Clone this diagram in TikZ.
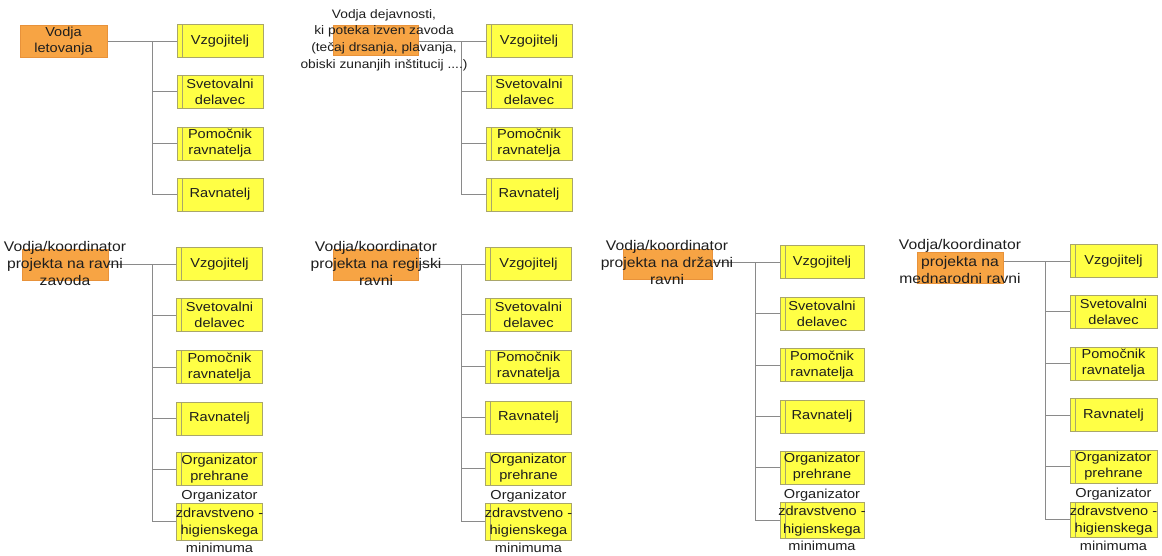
\documentclass[tikz,border=0pt]{standalone}
\usepackage{fontspec}
\setmainfont{Liberation Sans}[FakeStretch=1.12]
\usetikzlibrary{positioning}
\pgfdeclarelayer{background}
\pgfsetlayers{background,main}
\definecolor{yfill}{HTML}{FFFF45}
\definecolor{ybord}{HTML}{A9A66A}
\definecolor{ofill}{HTML}{F7A444}
\definecolor{obord}{HTML}{E8923A}
\definecolor{lgray}{HTML}{8A8A8A}
\definecolor{txt}{HTML}{1E1E1E}
\tikzset{
  yel/.style={draw=ybord, fill=yfill, line width=0.7pt, minimum width=86pt, minimum height=33pt,
    inner sep=0pt, align=center, text=txt, font=\fontsize{13}{16}\selectfont,
    path picture={\draw[ybord, line width=0.7pt]
      ([xshift=5pt]path picture bounding box.south west) --
      ([xshift=5pt]path picture bounding box.north west);}},
  ytext/.style={inner sep=0pt, align=center, text=txt, font=\fontsize{13}{17.5}\selectfont},
  ora/.style={draw=obord, fill=ofill, line width=0.6pt, minimum width=86pt, minimum height=31pt,
    inner sep=0pt, align=center, text=txt, font=\fontsize{13}{16}\selectfont},
  lead/.style={inner sep=0pt, align=center, text=txt, font=\fontsize{14}{17}\selectfont},
  leadsmall/.style={inner sep=0pt, align=center, text=txt, font=\fontsize{12.3}{16.7}\selectfont},
  conn/.style={draw=lgray, line width=0.9pt}
}
\begin{document}
\begin{tikzpicture}[x=1pt,y=1pt]
\begin{pgfonlayer}{background}
\fill[white] (0,0) rectangle (1162,-555);
\end{pgfonlayer}
\useasboundingbox (0,0) rectangle (1162,-555);

% ---------- Group A ----------
\node[ora, minimum height=32pt, minimum width=87pt] (A0) at (63.5,-41) {Vodja\\letovanja};
\node[yel] (A1) at (220,-41) {Vzgojitelj};
\node[yel] (A2) at (220,-91.5) {Svetovalni\\delavec};
\node[yel] (A3) at (220,-143.5) {Pomočnik\\ravnatelja};
\node[yel] (A4) at (220,-194.5) {Ravnatelj};
\coordinate (Av) at (152,-41);

% ---------- Group B ----------
\node[ora, minimum width=85pt, minimum height=30pt] (B0) at (375.5,-40) {};
\node[yel] (B1) at (529,-41) {Vzgojitelj};
\node[yel] (B2) at (529,-91.5) {Svetovalni\\delavec};
\node[yel] (B3) at (529,-143.5) {Pomočnik\\ravnatelja};
\node[yel] (B4) at (529,-194.5) {Ravnatelj};
\coordinate (Bv) at (461,-41);
\node[leadsmall] (B0t) at (384,-40) {Vodja dejavnosti,\\ki poteka izven zavoda\\(tečaj drsanja, plavanja,\\obiski zunanjih inštitucij ....)};

% ---------- Group C ----------
\node[ora] (C0) at (65,-264.5) {};
\node[yel] (C1) at (219.5,-264) {Vzgojitelj};
\node[yel] (C2) at (219.5,-315) {Svetovalni\\delavec};
\node[yel] (C3) at (219.5,-367) {Pomočnik\\ravnatelja};
\node[yel] (C4) at (219.5,-418.5) {Ravnatelj};
\node[yel] (C5) at (219.5,-469) {Organizator\\prehrane};
\node[yel, minimum height=37pt] (C6) at (219.5,-521.5) {};
\node[ytext] (C6t) at (C6) {Organizator\\zdravstveno -\\higienskega\\minimuma};
\node[lead] (C0t) at (65,-263) {Vodja/koordinator\\projekta na ravni\\zavoda};
\coordinate (Cv) at (152,-264);

% ---------- Group D ----------
\node[ora, minimum width=85pt] (D0) at (375.5,-264.5) {};
\node[yel] (D1) at (528.5,-264) {Vzgojitelj};
\node[yel] (D2) at (528.5,-314.5) {Svetovalni\\delavec};
\node[yel] (D3) at (528.5,-366.5) {Pomočnik\\ravnatelja};
\node[yel] (D4) at (528.5,-417.5) {Ravnatelj};
\node[yel] (D5) at (528.5,-468.5) {Organizator\\prehrane};
\node[yel, minimum height=37pt] (D6) at (528.5,-521.5) {};
\node[ytext] (D6t) at (D6) {Organizator\\zdravstveno -\\higienskega\\minimuma};
\node[lead] (D0t) at (376,-263) {Vodja/koordinator\\projekta na regijski\\ravni};
\coordinate (Dv) at (461,-264);

% ---------- Group E ----------
\node[ora, minimum width=89pt, minimum height=30pt] (E0) at (667.5,-264.5) {};
\node[yel, minimum width=84pt] (E1) at (822,-262) {Vzgojitelj};
\node[yel, minimum width=84pt] (E2) at (822,-313.5) {Svetovalni\\delavec};
\node[yel, minimum width=84pt] (E3) at (822,-365) {Pomočnik\\ravnatelja};
\node[yel, minimum width=84pt] (E4) at (822,-416.5) {Ravnatelj};
\node[yel, minimum width=84pt] (E5) at (822,-467.5) {Organizator\\prehrane};
\node[yel, minimum width=84pt, minimum height=36pt] (E6) at (822,-520) {};
\node[ytext] (E6t) at (E6) {Organizator\\zdravstveno -\\higienskega\\minimuma};
\node[lead] (E0t) at (667,-262) {Vodja/koordinator\\projekta na državni\\ravni};
\coordinate (Ev) at (755,-262);

% ---------- Group F ----------
\node[ora, minimum width=86pt] (F0) at (960,-267.5) {};
\node[yel, minimum width=87pt] (F1) at (1113.5,-261) {Vzgojitelj};
\node[yel, minimum width=87pt] (F2) at (1113.5,-311.5) {Svetovalni\\delavec};
\node[yel, minimum width=87pt] (F3) at (1113.5,-363.5) {Pomočnik\\ravnatelja};
\node[yel, minimum width=87pt] (F4) at (1113.5,-415) {Ravnatelj};
\node[yel, minimum width=87pt] (F5) at (1113.5,-466.5) {Organizator\\prehrane};
\node[yel, minimum width=87pt, minimum height=35pt] (F6) at (1113.5,-519.5) {};
\node[ytext] (F6t) at (F6) {Organizator\\zdravstveno -\\higienskega\\minimuma};
\node[lead] (F0t) at (960,-261) {Vodja/koordinator\\projekta na\\mednarodni ravni};
\coordinate (Fv) at (1045,-261);

% ---------- connectors ----------
\begin{pgfonlayer}{background}
\foreach \g in {A,B} {
  \draw[conn] (\g0.east |- \g1) -- (\g v) |- (\g4.west);
  \foreach \i in {1,2,3} \draw[conn] (\g v |- \g\i) -- (\g\i.west);
}
\foreach \g in {C,D,E,F} {
  \draw[conn] (\g0.east |- \g1) -- (\g v) |- (\g6.west);
  \foreach \i in {1,...,5} \draw[conn] (\g v |- \g\i) -- (\g\i.west);
}
\end{pgfonlayer}
\end{tikzpicture}
\end{document}
